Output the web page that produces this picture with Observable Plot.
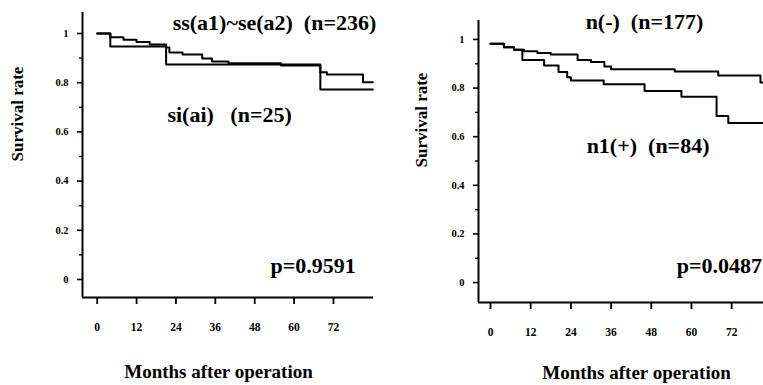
<!DOCTYPE html>
<html>
<head>
<meta charset="utf-8">
<script src="https://cdn.jsdelivr.net/npm/d3@7"></script>
<script src="https://cdn.jsdelivr.net/npm/@observablehq/plot@0.6"></script>
<style>
  html, body { margin: 0; padding: 0; background: #fff; }
  #wrap { position: relative; width: 763px; height: 385px; overflow: hidden; background: #fff; }
  #left, #right { position: absolute; top: 0; }
  #left { left: 0; width: 383px; }
  #right { left: 383px; width: 400px; }
  svg { overflow: visible; max-width: none !important; }
</style>
</head>
<body>
<div id="wrap"><div id="left"></div><div id="right"></div></div>
<script>
// ---- data ----
const xTicks = [0, 12, 24, 36, 48, 60, 72];
const yTicks = [0, 0.2, 0.4, 0.6, 0.8, 1];
const yMinorTicks = [0.1, 0.3, 0.5, 0.7, 0.9];

// Left panel: depth of invasion
const ssTime = [0, 4, 8, 12, 16, 21, 22, 26, 32, 35, 40, 56, 68, 70, 81, 84];
const ssSurv = [1, 0.985, 0.975, 0.965, 0.955, 0.943, 0.923, 0.915, 0.898, 0.886, 0.879, 0.870, 0.842, 0.833, 0.802, 0.802];
const siTime = [0, 4, 21, 68, 84];
const siSurv = [1, 0.947, 0.874, 0.772, 0.772];

// Right panel: lymph node status
const nNegTime = [0, 4, 7, 10, 14, 18, 26, 30, 34, 36, 55, 68, 80.6, 85];
const nNegSurv = [0.982, 0.968, 0.958, 0.952, 0.944, 0.938, 0.916, 0.907, 0.889, 0.877, 0.868, 0.852, 0.823, 0.823];
const nPosTime = [0, 4, 7, 9.5, 16, 20.3, 22.9, 24, 33.8, 46, 57, 67.5, 71, 85];
const nPosSurv = [0.982, 0.968, 0.958, 0.916, 0.893, 0.866, 0.845, 0.831, 0.816, 0.788, 0.764, 0.685, 0.656, 0.656];

const leftLabels = ["ss(a1)~se(a2)\u00a0\u00a0(n=236)", "si(ai)\u00a0\u00a0\u00a0(n=25)", "p=0.9591"];
const rightLabels = ["n(-)\u00a0\u00a0(n=177)", "n1(+)\u00a0\u00a0(n=84)", "p=0.0487"];
const xTitle = "Months after operation";
const yTitle = "Survival rate";

const toRows = (t, s) => t.map((d, i) => ({t: d, s: s[i]}));

const FONT = "'Liberation Serif', 'Times New Roman', serif";

function panel({width, marginLeft, marginRight, marginTop, marginBottom, xDomain, yDomain, series, labels, labelPos, yTitleDx, yTitleDy, xTitleDx, xTitleDy}) {
  const marks = [
    Plot.ruleX([xDomain[0]], {stroke: "black", strokeWidth: 2}),
    Plot.ruleY([yDomain[0]], {stroke: "black", strokeWidth: 2}),
    Plot.axisY({ticks: yTicks, tickSize: 5, tickPadding: 9, tickFormat: d => String(d), fontSize: 10.5, fontWeight: "bold", strokeWidth: 1.6, label: null}),
    Plot.axisY({ticks: yMinorTicks, tickSize: 3, text: null, strokeWidth: 1.4, label: null}),
    Plot.axisX({ticks: xTicks, tickSize: 7, tickPadding: 18, tickFormat: d => String(d), fontSize: 11.5, fontWeight: "bold", strokeWidth: 1.8, label: null}),
    ...series.map(([t, s]) => Plot.line(toRows(t, s), {x: "t", y: "s", curve: "step-after", stroke: "black", strokeWidth: 2})),
    ...labels.map((txt, i) => Plot.text([txt], {x: labelPos[i][0], y: labelPos[i][1], text: d => d, textAnchor: "start", lineAnchor: "middle", fontSize: 22, fontWeight: "bold", fill: "black"})),
    Plot.text([yTitle], {frameAnchor: "left", text: d => d, rotate: -90, dx: yTitleDx, dy: yTitleDy, fontSize: 17, fontWeight: "bold", lineAnchor: "middle", fill: "black"}),
    Plot.text([xTitle], {frameAnchor: "bottom", text: d => d, dx: xTitleDx, dy: xTitleDy, fontSize: 19, fontWeight: "bold", lineAnchor: "middle", fill: "black"})
  ];
  return Plot.plot({
    width, height: 385,
    marginLeft, marginRight, marginTop, marginBottom,
    x: {domain: xDomain},
    y: {domain: yDomain},
    style: {fontFamily: FONT, fontWeight: "bold", color: "black", background: "transparent", overflow: "visible", maxWidth: "none"},
    marks
  });
}

document.getElementById("left").append(panel({
  width: 383, marginLeft: 82, marginRight: 10, marginTop: 12, marginBottom: 88,
  xDomain: [-4.48, 84.2], yDomain: [-0.0732, 1.0854],
  series: [[ssTime, ssSurv], [siTime, siSurv]],
  labels: leftLabels,
  labelPos: [[23.0, 1.041], [21.4, 0.667], [52.8, 0.057]],
  yTitleDx: -65, yTitleDy: 6.5, xTitleDx: -9.5, xTitleDy: 74
}));

document.getElementById("right").append(panel({
  width: 400, marginLeft: 95, marginRight: 11, marginTop: 20, marginBottom: 83,
  xDomain: [-3.59, 84.2], yDomain: [-0.082, 1.078],
  series: [[nNegTime, nNegSurv], [nPosTime, nPosSurv]],
  labels: rightLabels,
  labelPos: [[28.4, 1.07], [28.7, 0.564], [55.6, 0.07]],
  yTitleDx: -57, yTitleDy: 6, xTitleDx: 11, xTitleDy: 70
}));
</script>
</body>
</html>
